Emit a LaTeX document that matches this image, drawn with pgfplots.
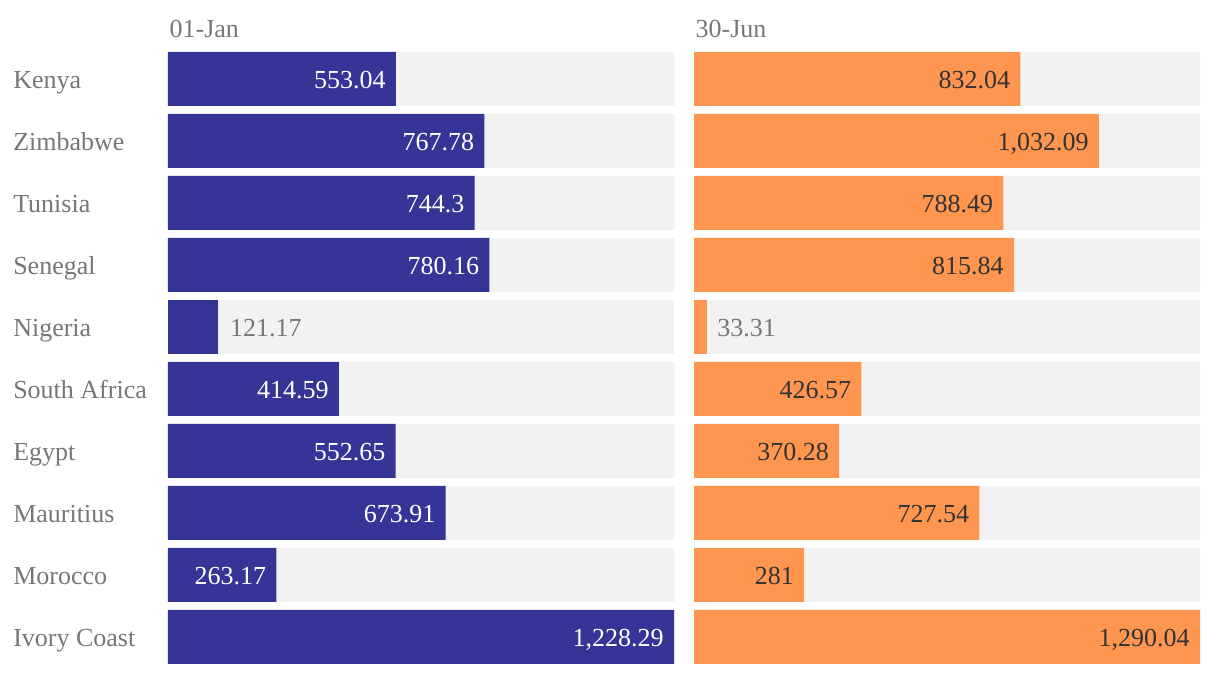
\documentclass[border=0pt]{standalone}
\usepackage{pgfplots}
\pgfplotsset{compat=1.18}
\usepackage{pgfplotstable}
\usepackage{fontspec}
\setmainfont{Liberation Serif}
\definecolor{barblue}{HTML}{353597}
\definecolor{barorange}{HTML}{FF964F}
\definecolor{bggrey}{HTML}{F2F2F2}
\definecolor{txtgrey}{HTML}{777777}
\definecolor{txtdark}{HTML}{333333}

% y: Kenya=9 ... Ivory Coast=0
\pgfplotstableread{
y jan janlab jun junlab bgjan bgjun
9 553.04 553.04 832.04 832.04 1228.29 1290.04
8 767.78 767.78 1032.09 1,032.09 1228.29 1290.04
7 744.3 744.3 788.49 788.49 1228.29 1290.04
6 780.16 780.16 815.84 815.84 1228.29 1290.04
4 414.59 414.59 426.57 426.57 1228.29 1290.04
3 552.65 552.65 370.28 370.28 1228.29 1290.04
2 673.91 673.91 727.54 727.54 1228.29 1290.04
1 263.17 263.17 281 281 1228.29 1290.04
0 1228.29 1,228.29 1290.04 1,290.04 1228.29 1290.04
}\rest
\pgfplotstableread{
y jan janlab jun junlab bgjan bgjun
5 121.17 121.17 33.31 33.31 1228.29 1290.04
}\nig

\pgfplotsset{
  panel/.style={
    scale only axis,
    width=379.5pt, height=459pt,
    xmin=0,
    ymin=-0.4355, ymax=9.4355,
    axis line style={draw=none},
    major tick length=0pt,
    xtick=\empty,
    xbar, bar width=40.5pt, bar shift=0pt,
    clip=false,
    title style={at={(rel axis cs:0,1)}, anchor=base west, yshift=4.5pt, xshift=1pt, inner sep=0pt, text=txtgrey},
  },
  inlabel/.style={
    nodes near coords,
    point meta=explicit symbolic,
    every node near coord/.append style={anchor=base east, inner sep=0pt, xshift=-7.5pt, yshift=-7.5pt, text=#1},
  },
  outlabel/.style={
    nodes near coords,
    point meta=explicit symbolic,
    every node near coord/.append style={anchor=base west, inner sep=0pt, xshift=#1, yshift=-7.5pt, text=txtgrey},
  },
}

\begin{document}
\begin{tikzpicture}[font=\fontsize{19.5}{23}\selectfont]
\useasboundingbox (0,0) rectangle (915pt,505.5pt);

\begin{axis}[panel, at={(126pt,7.5pt)}, anchor=south west,
  xmax=1228.29, title={01-Jan},
  ytick={0,...,9},
  yticklabels={Ivory Coast, Morocco, Mauritius, Egypt, South Africa, Nigeria, Senegal, Tunisia, Zimbabwe, Kenya},
  yticklabel style={anchor=base west, xshift=-116.25pt, yshift=-7.5pt, inner sep=0pt, text=txtgrey},
]
\addplot[fill=bggrey, draw=none] table[x=bgjan, y=y] {\rest};
\addplot[fill=bggrey, draw=none] table[x=bgjan, y=y] {\nig};
\addplot[fill=barblue, draw=none, inlabel=white] table[x=jan, y=y, meta=janlab] {\rest};
\addplot[fill=barblue, draw=none, outlabel=9pt] table[x=jan, y=y, meta=janlab] {\nig};
\end{axis}

\begin{axis}[panel, at={(520.5pt,7.5pt)}, anchor=south west,
  xmax=1290.04, title={30-Jun},
  ytick=\empty,
]
\addplot[fill=bggrey, draw=none] table[x=bgjun, y=y] {\rest};
\addplot[fill=bggrey, draw=none] table[x=bgjun, y=y] {\nig};
\addplot[fill=barorange, draw=none, inlabel=txtdark] table[x=jun, y=y, meta=junlab] {\rest};
\addplot[fill=barorange, draw=none, outlabel=7.5pt] table[x=jun, y=y, meta=junlab] {\nig};
\end{axis}
\end{tikzpicture}
\end{document}
